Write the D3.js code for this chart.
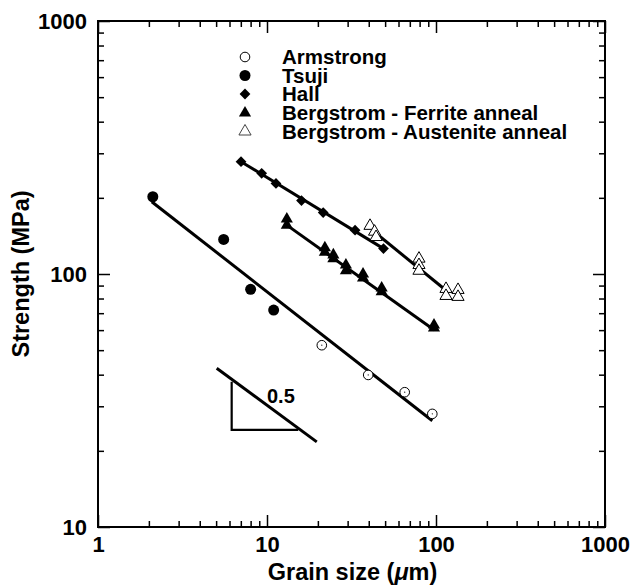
<!DOCTYPE html>
<html>
<head>
<meta charset="utf-8">
<script src="https://cdn.jsdelivr.net/npm/d3@7"></script>
<style>
  body { margin: 0; background: #fff; }
  svg text { font-family: "Liberation Sans", Arial, Helvetica, sans-serif; font-weight: bold; fill: #000; }
</style>
</head>
<body>
<div id="chart"></div>
<script>
// values (grain size in um, strength in MPa)
var armstrongX = [21.1, 39.7, 65.3, 95.1];
var armstrongY = [52.3, 39.9, 34.1, 28.0];
var tsujiX = [2.11, 5.54, 8.0, 10.95];
var tsujiY = [202, 137, 87, 72];
var hallX = [7.02, 9.3, 11.3, 16.0, 21.5, 33.2, 48.9];
var hallY = [278, 250, 228, 195, 175, 149, 126];
var ferriteX = [13.1, 13.1, 22.0, 22.0, 24.7, 24.7, 29.3, 29.3, 37.0, 37.0, 47.7, 47.7, 97.3, 97.3];
var ferriteY = [165, 156, 127, 122, 119, 115, 108.5, 103, 100, 96.4, 88, 85, 62.9, 61.2];
var austeniteX = [40.7, 43.3, 44.2, 79.3, 79.3, 79.3, 114.6, 114.6, 135, 135];
var austeniteY = [155, 147, 140, 115, 108.5, 103, 87.3, 81.9, 86.5, 81.2];

// fitted lines, start and end points
var fitX = [[2.08, 95.1], [7.02, 48.9], [13.1, 97.6], [43.2, 117.8]];
var fitY = [[193, 26.3], [278, 126], [156, 60.1], [146.6, 84.9]];

// slope guide
var slopeX = [5.04, 19.7];
var slopeY = [42.4, 21.7];
var legX = [6.18, 6.18, 15.3];
var legY = [37.5, 24.2, 24.2];
var slopeLabel = '0.5';

var xTicks = [1, 10, 100, 1000];
var yTicks = [10, 100, 1000];
var legendNames = ['Armstrong', 'Tsuji', 'Hall', 'Bergstrom - Ferrite anneal', 'Bergstrom - Austenite anneal'];

var W = 633, H = 587;
var m = {left: 98, right: 28, top: 21, bottom: 60};

var svg = d3.select('#chart').append('svg')
    .attr('width', W).attr('height', H);

var x = d3.scaleLog().domain([1, 1000]).range([m.left, W - m.right]);
var y = d3.scaleLog().domain([10, 1000]).range([H - m.bottom, m.top]);

function minors(lo, hi) {
    var out = [];
    for (var d = lo; d < hi; d *= 10)
        for (var k = 2; k <= 9; k++) out.push(d * k);
    return out;
}

var g = svg.append('g');

// axes: inward ticks on all four sides
function styleAxis(sel) {
    sel.select('.domain').remove();
    sel.selectAll('line').attr('stroke', '#000').attr('stroke-width', 1.5);
    sel.selectAll('text').style('font-size', '22px');
}
var yBot = y.range()[0], yTop = y.range()[1], xLeft = x.range()[0], xRight = x.range()[1];

g.append('g').attr('transform', 'translate(0,' + yBot + ')')
    .call(d3.axisBottom(x).tickValues(minors(1, 1000)).tickSize(-6).tickFormat(''))
    .call(styleAxis);
g.append('g').attr('transform', 'translate(0,' + yBot + ')')
    .call(d3.axisBottom(x).tickValues(xTicks).tickSize(-12).tickPadding(9).tickFormat(d3.format('d')))
    .call(styleAxis);
g.append('g').attr('transform', 'translate(0,' + yTop + ')')
    .call(d3.axisTop(x).tickValues(minors(1, 1000)).tickSize(-6).tickFormat(''))
    .call(styleAxis);
g.append('g').attr('transform', 'translate(0,' + yTop + ')')
    .call(d3.axisTop(x).tickValues(xTicks).tickSize(-12).tickFormat(''))
    .call(styleAxis);
g.append('g').attr('transform', 'translate(' + xLeft + ',0)')
    .call(d3.axisLeft(y).tickValues(minors(10, 1000)).tickSize(-6).tickFormat(''))
    .call(styleAxis);
g.append('g').attr('transform', 'translate(' + xLeft + ',0)')
    .call(d3.axisLeft(y).tickValues(yTicks).tickSize(-12).tickPadding(11).tickFormat(d3.format('d')))
    .call(styleAxis);
g.append('g').attr('transform', 'translate(' + xRight + ',0)')
    .call(d3.axisRight(y).tickValues(minors(10, 1000)).tickSize(-6).tickFormat(''))
    .call(styleAxis);
g.append('g').attr('transform', 'translate(' + xRight + ',0)')
    .call(d3.axisRight(y).tickValues(yTicks).tickSize(-12).tickFormat(''))
    .call(styleAxis);

g.append('rect')
    .attr('x', xLeft).attr('y', yTop)
    .attr('width', xRight - xLeft).attr('height', yBot - yTop)
    .attr('fill', 'none').attr('stroke', '#000').attr('stroke-width', 2);

// axis titles
svg.append('text')
    .attr('x', (xLeft + xRight) / 2 + 1).attr('y', 580)
    .attr('text-anchor', 'middle')
    .style('font-size', '23.5px')
    .html('Grain size (<tspan font-style="italic">\u03bc</tspan>m)');
svg.append('text')
    .attr('transform', 'translate(29,' + ((yTop + yBot) / 2) + ') rotate(-90)')
    .attr('text-anchor', 'middle')
    .style('font-size', '23.5px')
    .text('Strength (MPa)');

// fit lines
var line = d3.line().x(function (d) { return x(d[0]); }).y(function (d) { return y(d[1]); });
fitX.forEach(function (xs, i) {
    g.append('path')
        .attr('d', line(d3.zip(xs, fitY[i])))
        .attr('stroke', '#000').attr('stroke-width', 3).attr('fill', 'none');
});

// slope triangle
g.append('path').attr('d', line(d3.zip(legX, legY)))
    .attr('stroke', '#000').attr('stroke-width', 2.2).attr('fill', 'none');
g.append('path').attr('d', line(d3.zip(slopeX, slopeY)))
    .attr('stroke', '#000').attr('stroke-width', 3).attr('fill', 'none');
g.append('text')
    .attr('x', x(10)).attr('y', y(30.9))
    .style('font-size', '20px')
    .text(slopeLabel);

// markers
var tri = d3.symbol().type(d3.symbolTriangle).size(64);
var dia = d3.symbol().type(d3.symbolSquare).size(58);

function pts(xs, ys) { return d3.zip(xs, ys); }
function at(d) { return 'translate(' + x(d[0]) + ',' + y(d[1]) + ')'; }

g.selectAll('.armstrong').data(pts(armstrongX, armstrongY)).enter()
    .append('circle').attr('class', 'armstrong')
    .attr('cx', function (d) { return x(d[0]); })
    .attr('cy', function (d) { return y(d[1]); })
    .attr('r', 4.8).attr('fill', '#fff').attr('stroke', '#000').attr('stroke-width', 1);
g.selectAll('.adot').data(pts(armstrongX, armstrongY)).enter()
    .append('circle').attr('class', 'adot')
    .attr('cx', function (d) { return x(d[0]); })
    .attr('cy', function (d) { return y(d[1]); })
    .attr('r', 0.6).attr('fill', '#000');

g.selectAll('.tsuji').data(pts(tsujiX, tsujiY)).enter()
    .append('circle').attr('class', 'tsuji')
    .attr('cx', function (d) { return x(d[0]); })
    .attr('cy', function (d) { return y(d[1]); })
    .attr('r', 5.5).attr('fill', '#000');

g.selectAll('.hall').data(pts(hallX, hallY)).enter()
    .append('path').attr('class', 'hall')
    .attr('transform', function (d) { return at(d) + ' rotate(45)'; })
    .attr('d', dia).attr('fill', '#000');

g.selectAll('.ferrite').data(pts(ferriteX, ferriteY)).enter()
    .append('path').attr('class', 'ferrite')
    .attr('transform', at)
    .attr('d', tri).attr('fill', '#000');

g.selectAll('.austenite').data(pts(austeniteX, austeniteY)).enter()
    .append('path').attr('class', 'austenite')
    .attr('transform', at)
    .attr('d', tri).attr('fill', '#fff').attr('stroke', '#000').attr('stroke-width', 1);

// legend
var lg = svg.append('g');
var rowY = [57, 75.5, 94, 113, 131.5];
legendNames.forEach(function (name, i) {
    var cy = rowY[i];
    if (i == 0)
        lg.append('circle').attr('cx', 245).attr('cy', cy).attr('r', 4.8)
            .attr('fill', '#fff').attr('stroke', '#000');
    else if (i == 1)
        lg.append('circle').attr('cx', 245).attr('cy', cy).attr('r', 5.5).attr('fill', '#000');
    else if (i == 2)
        lg.append('path').attr('transform', 'translate(245,' + cy + ') rotate(45)').attr('d', dia).attr('fill', '#000');
    else
        lg.append('path').attr('transform', 'translate(245,' + cy + ')').attr('d', tri)
            .attr('fill', i == 3 ? '#000' : '#fff').attr('stroke', i == 3 ? 'none' : '#444');
    lg.append('text').attr('x', 282).attr('y', cy).attr('dy', '0.36em')
        .style('font-size', '20.5px').text(name);
});
</script>
</body>
</html>
